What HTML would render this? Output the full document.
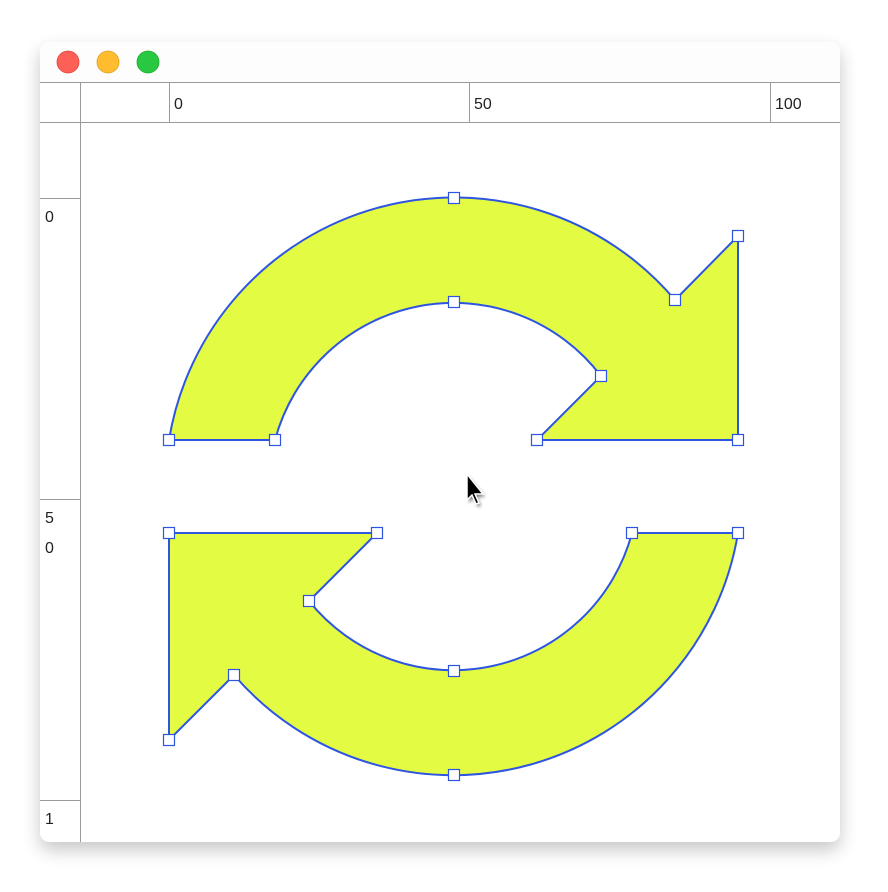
<!DOCTYPE html>
<html><head><meta charset="utf-8"><style>
html,body{margin:0;padding:0;background:#fff;width:888px;height:892px;overflow:hidden;font-family:"Liberation Sans",sans-serif}
</style></head><body>
<svg width="888" height="892" viewBox="0 0 888 892" xmlns="http://www.w3.org/2000/svg">
<defs>
<filter id="sh" x="-10%" y="-10%" width="120%" height="125%"><feGaussianBlur stdDeviation="9"/></filter>
<filter id="csh"><feGaussianBlur stdDeviation="1.5"/></filter>
<clipPath id="win"><rect x="40" y="42" width="800" height="800" rx="9"/></clipPath>
</defs>
<rect x="40" y="50" width="800" height="800" rx="10" fill="#000" opacity="0.22" filter="url(#sh)"/>
<g clip-path="url(#win)">
<rect x="40" y="42" width="800" height="800" fill="#fff"/>
<rect x="40" y="42" width="800" height="40" fill="#fdfdfd"/>
<line x1="40" y1="82.5" x2="840" y2="82.5" stroke="#9a9a9a"/>
<circle cx="68" cy="62" r="11" fill="#fe5f57" stroke="#e0443e" stroke-width="0.8"/>
<circle cx="108" cy="62" r="11" fill="#febc2e" stroke="#dea123" stroke-width="0.8"/>
<circle cx="148" cy="62" r="11" fill="#28c840" stroke="#1aab29" stroke-width="0.8"/>
<g stroke="#9a9a9a" fill="none">
<line x1="40" y1="122.5" x2="840" y2="122.5"/>
<line x1="80.5" y1="82" x2="80.5" y2="842"/>
<line x1="169.5" y1="82" x2="169.5" y2="122"/>
<line x1="469.5" y1="82" x2="469.5" y2="122"/>
<line x1="770.5" y1="82" x2="770.5" y2="122"/>
<line x1="40" y1="198.5" x2="80" y2="198.5"/>
<line x1="40" y1="499.5" x2="80" y2="499.5"/>
<line x1="40" y1="800.5" x2="80" y2="800.5"/>
</g>
<g font-size="16" fill="#222">
<text x="174" y="109">0</text>
<text x="474" y="109">50</text>
<text x="775" y="109">100</text>
<text x="45" y="222">0</text>
<text x="45" y="523">5</text>
<text x="45" y="553">0</text>
<text x="45" y="824">1</text>
<text x="45" y="854">0</text>
</g>
<g fill="#e4fb44" stroke="#2d55e0" stroke-width="2">
<path d="M169,440 A289,289 0 0 1 675,300 L738,236 L738,440 L537,440 L601,376 A185,185 0 0 0 275,440 Z"/>
<path d="M169,533 L377,533 L309,601 A185,185 0 0 0 632,533 L738,533 A289,289 0 0 1 234,675 L169,740 Z"/>
</g>
<g id="handles" fill="#fff" stroke="#2d55e0" stroke-width="1.2"></g>
<path d="M469,477 L469,503 L474,498 L478,507 L481,506 L477,497 L485,497 Z" fill="#000" opacity="0.5" filter="url(#csh)"/>
<path d="M467,474 L467,500 L472,495 L476,504 L479,503 L475,494 L483,494 Z" fill="#000" stroke="#fff" stroke-width="1.5"/>
</g>
</svg>
<script>
const handleX=[169,275,454,454,675,738,738,537,601,169,377,309,454,632,738,454,234,169];
const handleY=[440,440,198,302,300,236,440,440,376,533,533,601,671,533,533,775,675,740];
const g=document.getElementById('handles');
for(let i=0;i<handleX.length;i++){
  const r=document.createElementNS('http://www.w3.org/2000/svg','rect');
  r.setAttribute('x',handleX[i]-5.5);r.setAttribute('y',handleY[i]-5.5);
  r.setAttribute('width',11);r.setAttribute('height',11);
  
  
  g.appendChild(r);
}
</script>
</body></html>
